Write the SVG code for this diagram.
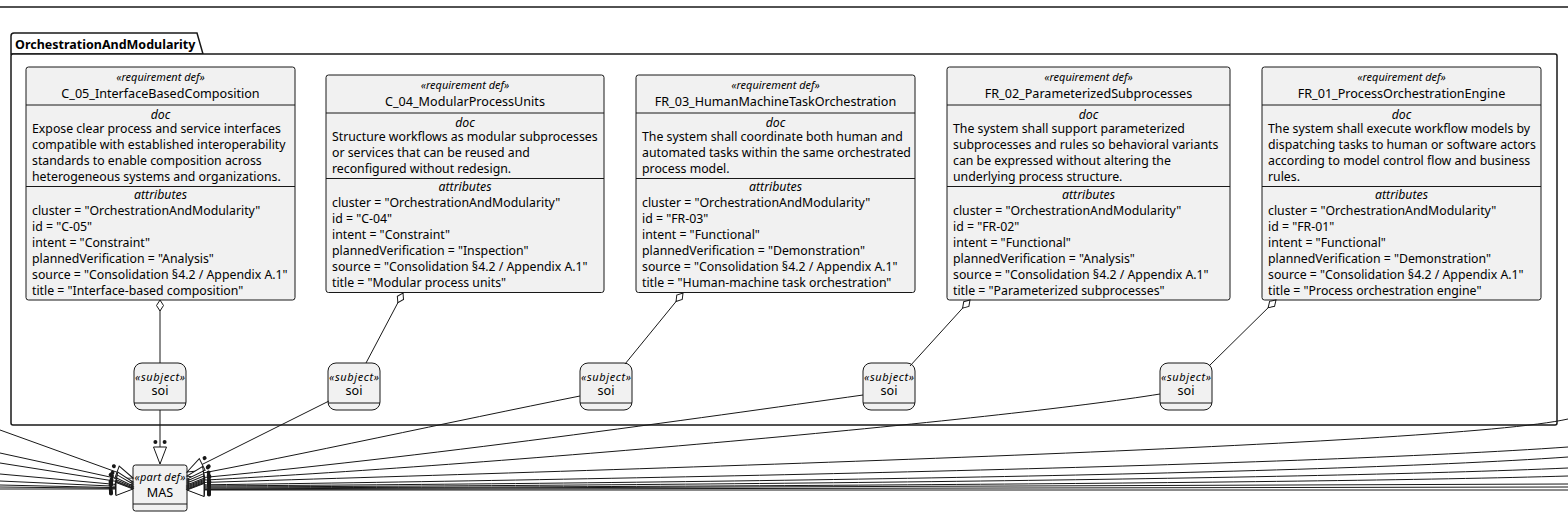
<svg xmlns="http://www.w3.org/2000/svg" width="1568" height="520" viewBox="0 0 1568 520">
<style>
text{font-family:"Noto Sans","DejaVu Sans",sans-serif;fill:#000}
.box{fill:#F1F1F1;stroke:#181818;stroke-width:1}
.sep{stroke:#181818;stroke-width:1}
.st{font-size:11px;font-style:italic;text-anchor:middle}
.nm{font-size:12.6px;text-anchor:middle}
.sec{font-size:12.3px;font-style:italic;text-anchor:middle}
.tx{font-size:12.3px}
.ln{stroke:#181818;stroke-width:1;fill:none}
.agg{marker-start:url(#dia)}
.sub{marker-end:url(#tri)}
</style>
<defs>
<marker id="dia" markerUnits="userSpaceOnUse" viewBox="-1 -5 14 10" markerWidth="14" markerHeight="10" refX="0" refY="0" orient="auto" overflow="visible">
<path d="M0,0 L5.5,-3.5 L11,0 L5.5,3.5 Z" fill="#fff" stroke="#181818" stroke-width="1"/>
</marker>
<marker id="tri" markerUnits="userSpaceOnUse" viewBox="-26 -10 28 20" markerWidth="28" markerHeight="20" refX="0" refY="0" orient="auto" overflow="visible">
<path d="M0,0 L-17,-6.5 L-17,6.5 Z" fill="#fff" stroke="#181818" stroke-width="1"/>
<circle cx="-22" cy="-4.6" r="2" fill="#181818"/>
<circle cx="-22" cy="4.6" r="2" fill="#181818"/>
</marker>
</defs>
<rect width="1568" height="520" fill="#fff"/>
<line x1="0" y1="7" x2="1568" y2="7" stroke="#181818" stroke-width="1.5"/>

<g id="pkg_OrchestrationAndModularity">
<path d="M11,54 L11,36 Q11,33 14,33 L197,33 L203,54 Z" fill="#fff" stroke="#181818" stroke-width="1.5"/>
<rect x="11" y="54" width="1546" height="371" rx="2" fill="#fff" stroke="#181818" stroke-width="1.5"/>
<text x="15" y="49" style="font-size:12.5px;font-weight:bold">OrchestrationAndModularity</text>
</g>

<g id="C_05_InterfaceBasedComposition">
<rect class="box" x="26" y="67" width="269" height="233" rx="2.5"/>
<line class="sep" x1="26" y1="105" x2="295" y2="105"/>
<line class="sep" x1="26" y1="186.5" x2="295" y2="186.5"/>
<text class="st" x="160.5" y="81">«requirement def»</text>
<text class="nm" x="160.5" y="98">C_05_InterfaceBasedComposition</text>
<text class="sec" x="160.5" y="118.5">doc</text>
<text class="tx" x="32" y="132.5">Expose clear process and service interfaces</text>
<text class="tx" x="32" y="148.5">compatible with established interoperability</text>
<text class="tx" x="32" y="164.5">standards to enable composition across</text>
<text class="tx" x="32" y="180.5">heterogeneous systems and organizations.</text>
<text class="sec" x="160.5" y="199">attributes</text>
<text class="tx" x="32" y="214.5">cluster = "OrchestrationAndModularity"</text>
<text class="tx" x="32" y="230.5">id = "C-05"</text>
<text class="tx" x="32" y="246.5">intent = "Constraint"</text>
<text class="tx" x="32" y="262.5">plannedVerification = "Analysis"</text>
<text class="tx" x="32" y="278.5">source = "Consolidation §4.2 / Appendix A.1"</text>
<text class="tx" x="32" y="294.5">title = "Interface-based composition"</text>
</g>

<g id="C_04_ModularProcessUnits">
<rect class="box" x="326" y="75" width="278" height="217.5" rx="2.5"/>
<line class="sep" x1="326" y1="113" x2="604" y2="113"/>
<line class="sep" x1="326" y1="178.5" x2="604" y2="178.5"/>
<text class="st" x="465" y="89">«requirement def»</text>
<text class="nm" x="465" y="106">C_04_ModularProcessUnits</text>
<text class="sec" x="465" y="126.5">doc</text>
<text class="tx" x="332" y="140.5">Structure workflows as modular subprocesses</text>
<text class="tx" x="332" y="156.5">or services that can be reused and</text>
<text class="tx" x="332" y="172.5">reconfigured without redesign.</text>
<text class="sec" x="465" y="191">attributes</text>
<text class="tx" x="332" y="206.5">cluster = "OrchestrationAndModularity"</text>
<text class="tx" x="332" y="222.5">id = "C-04"</text>
<text class="tx" x="332" y="238.5">intent = "Constraint"</text>
<text class="tx" x="332" y="254.5">plannedVerification = "Inspection"</text>
<text class="tx" x="332" y="270.5">source = "Consolidation §4.2 / Appendix A.1"</text>
<text class="tx" x="332" y="286.5">title = "Modular process units"</text>
</g>

<g id="FR_03_HumanMachineTaskOrchestration">
<rect class="box" x="636" y="75" width="279" height="217.5" rx="2.5"/>
<line class="sep" x1="636" y1="113" x2="915" y2="113"/>
<line class="sep" x1="636" y1="178.5" x2="915" y2="178.5"/>
<text class="st" x="775.5" y="89">«requirement def»</text>
<text class="nm" x="775.5" y="106">FR_03_HumanMachineTaskOrchestration</text>
<text class="sec" x="775.5" y="126.5">doc</text>
<text class="tx" x="642" y="140.5">The system shall coordinate both human and</text>
<text class="tx" x="642" y="156.5">automated tasks within the same orchestrated</text>
<text class="tx" x="642" y="172.5">process model.</text>
<text class="sec" x="775.5" y="191">attributes</text>
<text class="tx" x="642" y="206.5">cluster = "OrchestrationAndModularity"</text>
<text class="tx" x="642" y="222.5">id = "FR-03"</text>
<text class="tx" x="642" y="238.5">intent = "Functional"</text>
<text class="tx" x="642" y="254.5">plannedVerification = "Demonstration"</text>
<text class="tx" x="642" y="270.5">source = "Consolidation §4.2 / Appendix A.1"</text>
<text class="tx" x="642" y="286.5">title = "Human-machine task orchestration"</text>
</g>

<g id="FR_02_ParameterizedSubprocesses">
<rect class="box" x="947" y="67" width="283" height="233" rx="2.5"/>
<line class="sep" x1="947" y1="105" x2="1230" y2="105"/>
<line class="sep" x1="947" y1="186.5" x2="1230" y2="186.5"/>
<text class="st" x="1088.5" y="81">«requirement def»</text>
<text class="nm" x="1088.5" y="98">FR_02_ParameterizedSubprocesses</text>
<text class="sec" x="1088.5" y="118.5">doc</text>
<text class="tx" x="953" y="132.5">The system shall support parameterized</text>
<text class="tx" x="953" y="148.5">subprocesses and rules so behavioral variants</text>
<text class="tx" x="953" y="164.5">can be expressed without altering the</text>
<text class="tx" x="953" y="180.5">underlying process structure.</text>
<text class="sec" x="1088.5" y="199">attributes</text>
<text class="tx" x="953" y="214.5">cluster = "OrchestrationAndModularity"</text>
<text class="tx" x="953" y="230.5">id = "FR-02"</text>
<text class="tx" x="953" y="246.5">intent = "Functional"</text>
<text class="tx" x="953" y="262.5">plannedVerification = "Analysis"</text>
<text class="tx" x="953" y="278.5">source = "Consolidation §4.2 / Appendix A.1"</text>
<text class="tx" x="953" y="294.5">title = "Parameterized subprocesses"</text>
</g>

<g id="FR_01_ProcessOrchestrationEngine">
<rect class="box" x="1262" y="67" width="279" height="233" rx="2.5"/>
<line class="sep" x1="1262" y1="105" x2="1541" y2="105"/>
<line class="sep" x1="1262" y1="186.5" x2="1541" y2="186.5"/>
<text class="st" x="1401.5" y="81">«requirement def»</text>
<text class="nm" x="1401.5" y="98">FR_01_ProcessOrchestrationEngine</text>
<text class="sec" x="1401.5" y="118.5">doc</text>
<text class="tx" x="1268" y="132.5">The system shall execute workflow models by</text>
<text class="tx" x="1268" y="148.5">dispatching tasks to human or software actors</text>
<text class="tx" x="1268" y="164.5">according to model control flow and business</text>
<text class="tx" x="1268" y="180.5">rules.</text>
<text class="sec" x="1401.5" y="199">attributes</text>
<text class="tx" x="1268" y="214.5">cluster = "OrchestrationAndModularity"</text>
<text class="tx" x="1268" y="230.5">id = "FR-01"</text>
<text class="tx" x="1268" y="246.5">intent = "Functional"</text>
<text class="tx" x="1268" y="262.5">plannedVerification = "Demonstration"</text>
<text class="tx" x="1268" y="278.5">source = "Consolidation §4.2 / Appendix A.1"</text>
<text class="tx" x="1268" y="294.5">title = "Process orchestration engine"</text>
</g>

<g id="soi_1">
<rect class="box" x="134" y="363" width="52" height="47" rx="8"/>
<line class="sep" x1="134" y1="403" x2="186" y2="403"/>
<text class="st" x="160" y="381" textLength="50" lengthAdjust="spacing">«subject»</text>
<text class="nm" x="160" y="395">soi</text>
</g>
<g id="soi_2">
<rect class="box" x="328" y="363" width="52" height="47" rx="8"/>
<line class="sep" x1="328" y1="403" x2="380" y2="403"/>
<text class="st" x="354" y="381" textLength="50" lengthAdjust="spacing">«subject»</text>
<text class="nm" x="354" y="395">soi</text>
</g>
<g id="soi_3">
<rect class="box" x="580" y="363" width="52" height="47" rx="8"/>
<line class="sep" x1="580" y1="403" x2="632" y2="403"/>
<text class="st" x="606" y="381" textLength="50" lengthAdjust="spacing">«subject»</text>
<text class="nm" x="606" y="395">soi</text>
</g>
<g id="soi_4">
<rect class="box" x="863" y="363" width="52" height="47" rx="8"/>
<line class="sep" x1="863" y1="403" x2="915" y2="403"/>
<text class="st" x="889" y="381" textLength="50" lengthAdjust="spacing">«subject»</text>
<text class="nm" x="889" y="395">soi</text>
</g>
<g id="soi_5">
<rect class="box" x="1160" y="363" width="52" height="47" rx="8"/>
<line class="sep" x1="1160" y1="403" x2="1212" y2="403"/>
<text class="st" x="1186" y="381" textLength="50" lengthAdjust="spacing">«subject»</text>
<text class="nm" x="1186" y="395">soi</text>
</g>

<g id="MAS">
<rect class="box" x="133" y="465" width="54" height="46" rx="2.5"/>
<line class="sep" x1="133" y1="504" x2="187" y2="504"/>
<text class="st" x="160" y="481" textLength="51" lengthAdjust="spacing">«part def»</text>
<text class="nm" x="160" y="497">MAS</text>
</g>

<g id="connectors">
<path class="ln agg" d="M160,300 L160,363"/>
<path class="ln agg" d="M403,293 L366,363"/>
<path class="ln agg" d="M683,293 L625,364"/>
<path class="ln agg" d="M970,300 L910,366"/>
<path class="ln agg" d="M1276,300 L1209,366"/>

<path class="ln sub" d="M160,410 L160,464"/>
<path class="ln sub" d="M329,401 L187,472"/>
<path class="ln sub" d="M580,396 C450,422 300,455 187,476"/>
<path class="ln sub" d="M863,395 C700,418 420,458 187,479"/>
<path class="ln sub" d="M1160,394 C1000,420 500,465 187,481"/>
<path class="ln sub" d="M1568,419 C1450,446 600,470 187,483"/>
<path class="ln sub" d="M1568,447 C1300,466 600,480 187,485"/>
<path class="ln sub" d="M1568,457 C1300,476 600,484 187,486"/>
<path class="ln sub" d="M1568,468 C1300,480 600,486 187,487"/>
<path class="ln sub" d="M1568,476 C1300,484 600,487 187,488"/>
<path class="ln sub" d="M1568,484 L187,489"/>
<path class="ln sub" d="M1568,487 L187,489.5"/>
<path class="ln sub" d="M1568,490 L187,490"/>

<path class="ln sub" d="M0,430 L133,478"/>
<path class="ln sub" d="M0,453 L133,482"/>
<path class="ln sub" d="M0,463 L133,484"/>
<path class="ln sub" d="M0,474 L133,486"/>
<path class="ln sub" d="M0,481 L133,487"/>
<path class="ln sub" d="M0,485 L133,488"/>
<path class="ln sub" d="M0,487 L133,488.5"/>
<path class="ln sub" d="M0,489 L133,489"/>
</g>
</svg>
